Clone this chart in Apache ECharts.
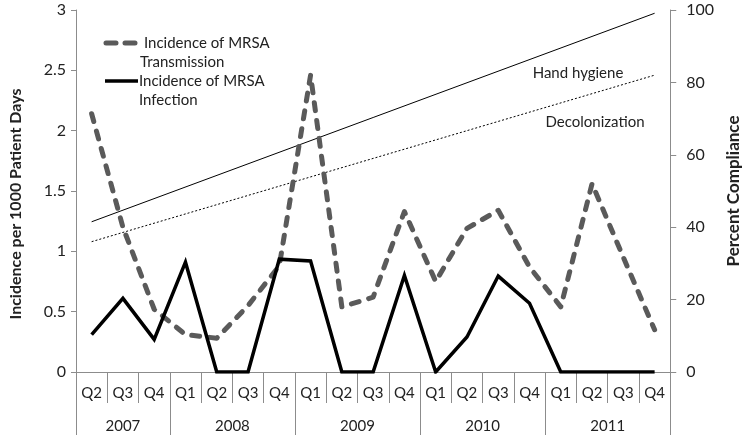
<!DOCTYPE html>
<html>
<head>
<meta charset="utf-8">
<script src="https://cdn.jsdelivr.net/npm/echarts@6/dist/echarts.min.js"></script>
<style>html,body{margin:0;padding:0;background:#fff}#c{width:750px;height:438px}</style>
</head>
<body>
<div id="c"></div>
<script>
// ---- data ----
const years = ['2007', '2008', '2009', '2010', '2011'];
const quartersPerYear = [3, 4, 4, 4, 4];
const quarterLabels = ['Q2','Q3','Q4','Q1','Q2','Q3','Q4','Q1','Q2','Q3','Q4','Q1','Q2','Q3','Q4','Q1','Q2','Q3','Q4'];
const transmission = [2.14, 1.20, 0.52, 0.31, 0.28, 0.55, 0.88, 2.46, 0.54, 0.62, 1.33, 0.75, 1.19, 1.34, 0.87, 0.54, 1.56, 0.95, 0.35];
const infection = [0.31, 0.61, 0.27, 0.91, 0, 0, 0.935, 0.92, 0, 0, 0.80, 0, 0.29, 0.795, 0.57, 0, 0, 0, 0];
const handHygiene = [[0, 41.5], [18, 99.1]];
const decolonization = [[0, 36.0], [18, 82.0]];
const leftTicks = { min: 0, max: 3, interval: 0.5 };
const rightTicks = { min: 0, max: 100, interval: 20 };

// ---- derived axis data ----
const categories = [];
let qi = 0;
years.forEach((y, yi) => {
  for (let k = 0; k < quartersPerYear[yi]; k++) { categories.push(y + ' ' + quarterLabels[qi]); qi++; }
});
const halfSlots = [];
const boundarySet = new Set();
for (let k = 0; k <= categories.length * 2; k++) halfSlots.push('');
let start = 0;
years.forEach((y, yi) => {
  boundarySet.add(2 * start);
  halfSlots[2 * start + quartersPerYear[yi]] = y;
  start += quartersPerYear[yi];
});
boundarySet.add(2 * start);

const FONT = 'Lato';
const axisGray = '#8c8c8c';
const textColor = '#222';

const chart = echarts.init(document.getElementById('c'), null, { renderer: 'canvas' });
chart.setOption({
  animation: false,
  textStyle: { fontFamily: FONT },
  grid: { left: 65, right: 64, top: 10, bottom: 66 },
  xAxis: [
    {
      type: 'category', data: categories, position: 'bottom', boundaryGap: true,
      axisLine: { lineStyle: { color: axisGray, width: 1 } },
      axisTick: { show: true, interval: 0, length: 31, lineStyle: { color: axisGray } },
      axisLabel: { interval: 0, margin: 14, color: textColor, fontSize: 15, fontFamily: FONT,
        formatter: v => v.split(' ')[1] },
      splitLine: { show: false }
    },
    {
      type: 'category', data: halfSlots, position: 'bottom', boundaryGap: false,
      axisLine: { show: false },
      axisTick: { show: true, length: 63, interval: (i) => boundarySet.has(i), lineStyle: { color: axisGray } },
      axisLabel: { interval: 0, margin: 47, color: textColor, fontSize: 15, fontFamily: FONT },
      splitLine: { show: false }
    }
  ],
  yAxis: [
    {
      type: 'value', position: 'left', min: leftTicks.min, max: leftTicks.max, interval: leftTicks.interval,
      name: 'Incidence per 1000 Patient Days', nameLocation: 'middle', nameGap: 52, nameRotate: 90,
      nameTextStyle: { fontSize: 16, fontWeight: 'bold', color: textColor, fontFamily: FONT, padding: [0, 26, 0, 0] },
      axisLine: { show: true, lineStyle: { color: axisGray } },
      axisTick: { show: true, length: 5, lineStyle: { color: axisGray } },
      axisLabel: { margin: 10, color: textColor, fontSize: 16, fontFamily: FONT },
      splitLine: { show: false }
    },
    {
      type: 'value', position: 'right', min: rightTicks.min, max: rightTicks.max, interval: rightTicks.interval,
      name: 'Percent Compliance', nameLocation: 'middle', nameGap: 44, nameRotate: 90,
      nameTextStyle: { fontSize: 17, fontWeight: 'bold', color: textColor, fontFamily: FONT },
      axisLine: { show: true, lineStyle: { color: axisGray } },
      axisTick: { show: true, length: 6, lineStyle: { color: axisGray } },
      axisLabel: { margin: 16, color: textColor, fontSize: 16, fontFamily: FONT },
      splitLine: { show: false }
    }
  ],
  series: [
    {
      name: 'Hand hygiene', type: 'line', yAxisIndex: 1, data: handHygiene, symbol: 'none',
      lineStyle: { color: '#000', width: 1 }, z: 2
    },
    {
      name: 'Decolonization', type: 'line', yAxisIndex: 1, data: decolonization, symbol: 'none',
      lineStyle: { color: '#000', width: 1, type: [2, 2] }, z: 2
    },
    {
      name: 'Incidence of MRSA Transmission', type: 'line', data: transmission, symbol: 'none',
      lineStyle: { color: '#5a5a5a', width: 5, type: [8, 10], cap: 'round', join: 'round' }, z: 3
    },
    {
      name: 'Incidence of MRSA Infection', type: 'line', data: infection, symbol: 'none',
      lineStyle: { color: '#000', width: 3.5, join: 'miter' }, z: 4
    }
  ],
  graphic: [
    { type: 'line', shape: { x1: 106, y1: 43, x2: 138, y2: 43 },
      style: { stroke: '#5a5a5a', lineWidth: 5, lineDash: [10, 9], lineCap: 'round' } },
    { type: 'text', x: 144, y: 43, style: { text: 'Incidence of MRSA', font: '15px ' + FONT, fill: textColor, verticalAlign: 'middle' } },
    { type: 'text', x: 140, y: 62, style: { text: 'Transmission', font: '15px ' + FONT, fill: textColor, verticalAlign: 'middle' } },
    { type: 'line', shape: { x1: 105, y1: 81, x2: 138, y2: 81 },
      style: { stroke: '#000', lineWidth: 3.5 } },
    { type: 'text', x: 139, y: 81, style: { text: 'Incidence of MRSA', font: '15px ' + FONT, fill: textColor, verticalAlign: 'middle' } },
    { type: 'text', x: 139, y: 100, style: { text: 'Infection', font: '15px ' + FONT, fill: textColor, verticalAlign: 'middle' } },
    { type: 'text', x: 578, y: 73, style: { text: 'Hand hygiene', font: '15px ' + FONT, fill: textColor, align: 'center', verticalAlign: 'middle' } },
    { type: 'text', x: 595, y: 122, style: { text: 'Decolonization', font: '15px ' + FONT, fill: textColor, align: 'center', verticalAlign: 'middle' } }
  ]
});
</script>
</body>
</html>
